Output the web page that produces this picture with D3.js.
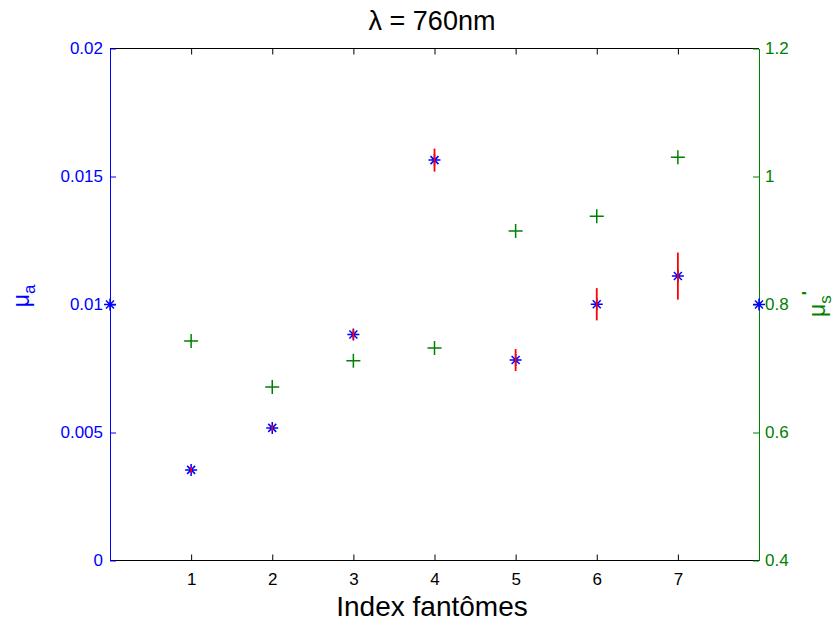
<!DOCTYPE html>
<html>
<head>
<meta charset="utf-8">
<script src="https://cdn.jsdelivr.net/npm/d3@7"></script>
<style>
  html, body { margin: 0; padding: 0; background: #fff; }
  text { font-family: "Liberation Sans", Arial, Helvetica, sans-serif; }
</style>
</head>
<body>
<svg id="chart" width="840" height="625"></svg>
<script>
// ---- data ----
const indexA = [0, 1, 2, 3, 4, 5, 6, 7, 8];
const muA = [0.01, 0.00354, 0.00518, 0.00883, 0.01564, 0.00783, 0.01001, 0.01111, 0.01];
const muAErr = [0, 0.0001, 0.0001, 0.0002, 0.00045, 0.00043, 0.00063, 0.00092, 0];
const indexS = [1, 2, 3, 4, 5, 6, 7];
const muS = [0.743, 0.671, 0.712, 0.732, 0.915, 0.938, 1.030];
const xTicks = [1, 2, 3, 4, 5, 6, 7];
const yLeftTicks = [0, 0.005, 0.01, 0.015, 0.02];
const yLeftLabels = ["0", "0.005", "0.01", "0.015", "0.02"];
const yRightTicks = [0.4, 0.6, 0.8, 1.0, 1.2];
const yRightLabels = ["0.4", "0.6", "0.8", "1", "1.2"];

const svg = d3.select("#chart");
const L = 110, R = 759, T = 48.5, B = 560.5;
const blue = "#0000ff", green = "#008000", red = "#ff0000";

const x = d3.scaleLinear().domain([0, 8]).range([L, R]);
const yL = d3.scaleLinear().domain([0, 0.02]).range([B, T]);
const yR = d3.scaleLinear().domain([0.4, 1.2]).range([B, T]);

// frame
svg.append("line").attr("x1", L).attr("x2", R).attr("y1", T).attr("y2", T).attr("stroke", "#000");
svg.append("line").attr("x1", L).attr("x2", R).attr("y1", B).attr("y2", B).attr("stroke", "#000");

// bottom axis (ticks inward)
const xb = d3.axisBottom(x).tickValues(xTicks).tickSizeInner(-6).tickSizeOuter(0).tickPadding(12).tickFormat(d3.format("d"));
const gxb = svg.append("g").attr("transform", `translate(0,${B})`).call(xb);
gxb.select(".domain").remove();
gxb.selectAll("line").attr("stroke", "#000");
gxb.selectAll("text").attr("font-size", 17).attr("fill", "#000");

const xt = d3.axisTop(x).tickValues(xTicks).tickSizeInner(-6).tickSizeOuter(0).tickFormat("");
const gxt = svg.append("g").attr("transform", `translate(0,${T})`).call(xt);
gxt.select(".domain").remove();
gxt.selectAll("line").attr("stroke", "#000");

// left axis
const yla = d3.axisLeft(yL).tickValues(yLeftTicks).tickSizeInner(-6).tickSizeOuter(0).tickPadding(7)
  .tickFormat((d, i) => yLeftLabels[i]);
const gyl = svg.append("g").attr("transform", `translate(${L},0)`).call(yla);
gyl.select(".domain").attr("stroke", blue);
gyl.selectAll("line").attr("stroke", blue);
gyl.selectAll("text").attr("font-size", 17).attr("fill", blue);

// right axis
const yra = d3.axisRight(yR).tickValues(yRightTicks).tickSizeInner(-6).tickSizeOuter(0).tickPadding(6)
  .tickFormat((d, i) => yRightLabels[i]);
const gyr = svg.append("g").attr("transform", `translate(${R},0)`).call(yra);
gyr.select(".domain").attr("stroke", green);
gyr.selectAll("line").attr("stroke", green);
gyr.selectAll("text").attr("font-size", 17).attr("fill", green);

// green plus markers (mu_s')
const ps = 7;
svg.append("g").selectAll("path").data(indexS).join("path")
  .attr("d", (d, i) => {
    const cx = x(d), cy = yR(muS[i]);
    return `M${cx - ps},${cy}H${cx + ps}M${cx},${cy - ps}V${cy + ps}`;
  })
  .attr("stroke", green).attr("stroke-width", 1.5).attr("fill", "none");

// blue asterisks (mu_a)
const as = 6, ad = 4;
svg.append("g").selectAll("path").data(indexA).join("path")
  .attr("d", (d, i) => {
    const cx = x(d), cy = yL(muA[i]);
    return `M${cx - as},${cy}H${cx + as}M${cx},${cy - as}V${cy + as}` +
      `M${cx - ad},${cy - ad}L${cx + ad},${cy + ad}M${cx - ad},${cy + ad}L${cx + ad},${cy - ad}`;
  })
  .attr("stroke", blue).attr("stroke-width", 1.5).attr("fill", "none");

// red error bars
svg.append("g").selectAll("line").data(indexA.filter((d, i) => muAErr[i] > 0)).join("line")
  .attr("x1", d => x(d)).attr("x2", d => x(d))
  .attr("y1", d => { const i = indexA.indexOf(d); return yL(muA[i] - muAErr[i]); })
  .attr("y2", d => { const i = indexA.indexOf(d); return yL(muA[i] + muAErr[i]); })
  .attr("stroke", red).attr("stroke-width", 1.8);

// title
svg.append("text").attr("x", 432).attr("y", 30).attr("text-anchor", "middle")
  .attr("font-size", 27).attr("fill", "#000").text("λ = 760nm");

// x label
svg.append("text").attr("x", 432).attr("y", 616).attr("text-anchor", "middle")
  .attr("font-size", 28).attr("fill", "#000").text("Index fantômes");

// left y label
const tl = svg.append("text").attr("transform", "translate(29,296) rotate(-90)")
  .attr("text-anchor", "middle").attr("font-size", 23).attr("fill", blue);
tl.append("tspan").text("μ");
tl.append("tspan").attr("dy", 6).attr("font-size", 17).text("a");

// right y label
const tr = svg.append("text").attr("transform", "translate(825,304) rotate(-90)")
  .attr("text-anchor", "middle").attr("font-size", 23).attr("fill", green);
tr.append("tspan").text("μ");
tr.append("tspan").attr("dy", 6).attr("font-size", 17).text("s");
tr.append("tspan").attr("dy", -17).attr("font-size", 17).attr("font-weight", "bold").text("'");
</script>
</body>
</html>
